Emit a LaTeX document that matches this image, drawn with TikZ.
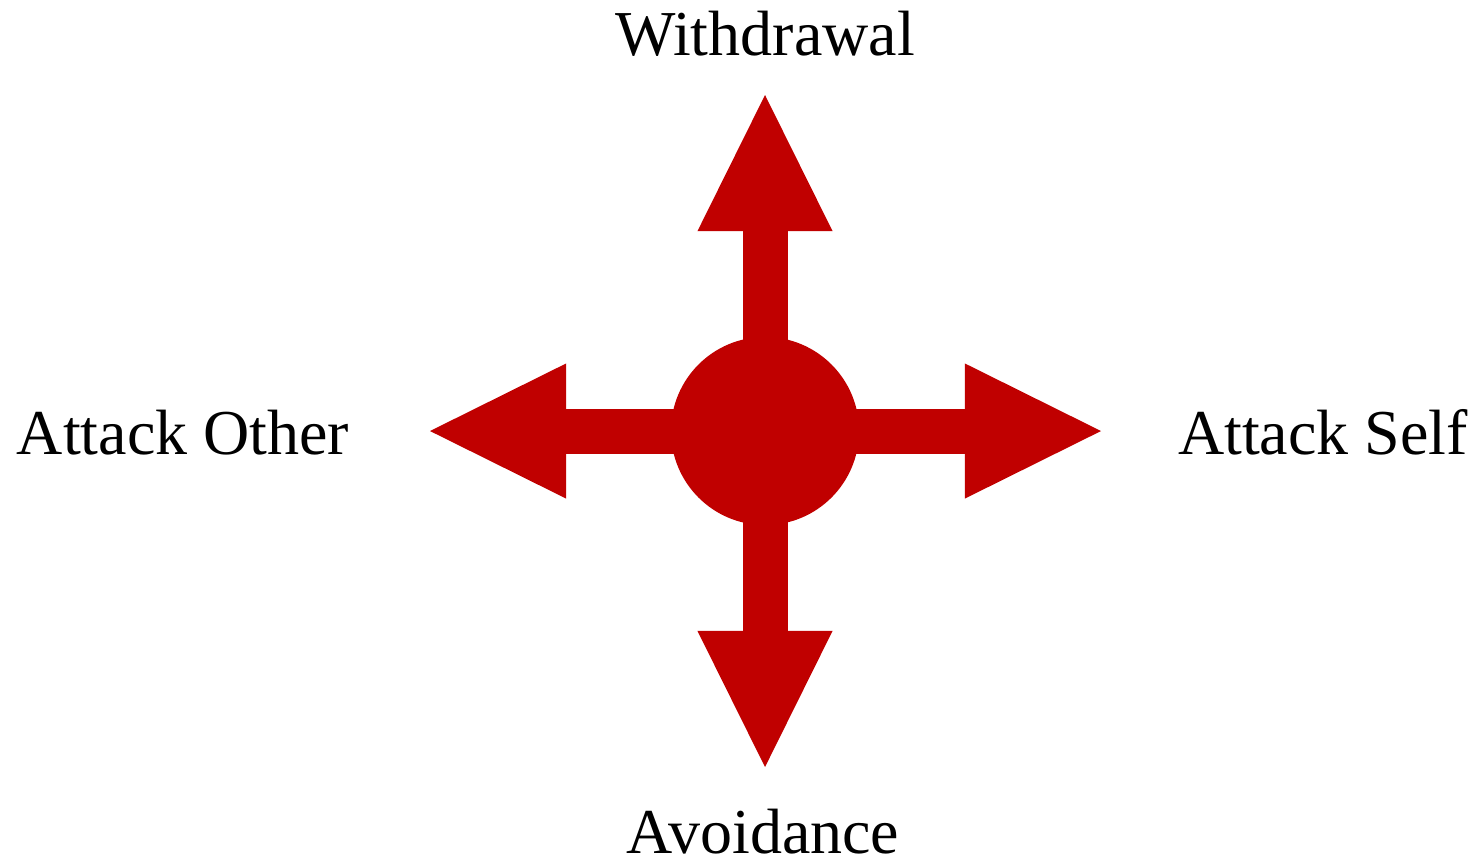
\documentclass[tikz,border=0pt]{standalone}
\usepackage{fontspec}
\setmainfont{Liberation Serif}
\usepackage{tikz}
\usetikzlibrary{arrows.meta, positioning}
\definecolor{darkred}{RGB}{192,0,0}
\tikzset{
    hub/.style={circle, fill=darkred, draw=none, minimum size=1.88cm, inner sep=0pt},
    bigarrow/.style={draw=darkred, line width=0.45cm,
        -{Triangle[length=1.36cm, width=1.35cm, line width=0pt, fill=darkred]}},
    label text/.style={anchor=base, inner sep=0pt, font=\fontsize{18.2pt}{22pt}\selectfont}
}

\begin{document}
\begin{tikzpicture}[x=0.01cm, y=-0.01cm]
  \useasboundingbox (0,0) rectangle (1480,859);
  \node[hub] (center) at (765, 431) {};
  \coordinate (tipN) at (765, 95);
  \coordinate (tipS) at (765, 767);
  \coordinate (tipW) at (430, 431);
  \coordinate (tipE) at (1101, 431);
  \draw[bigarrow] (center.center) -- (tipN);
  \draw[bigarrow] (center.center) -- (tipS);
  \draw[bigarrow] (center.center) -- (tipW);
  \draw[bigarrow] (center.center) -- (tipE);
  \node[label text] (withdrawal) at (765, 55) {Withdrawal};
  \node[label text] (avoidance) at (763, 853) {Avoidance};
  \node[label text] (other) at (183, 454) {Attack Other};
  \node[label text] (self) at (1323, 454) {Attack Self};
\end{tikzpicture}
\end{document}
